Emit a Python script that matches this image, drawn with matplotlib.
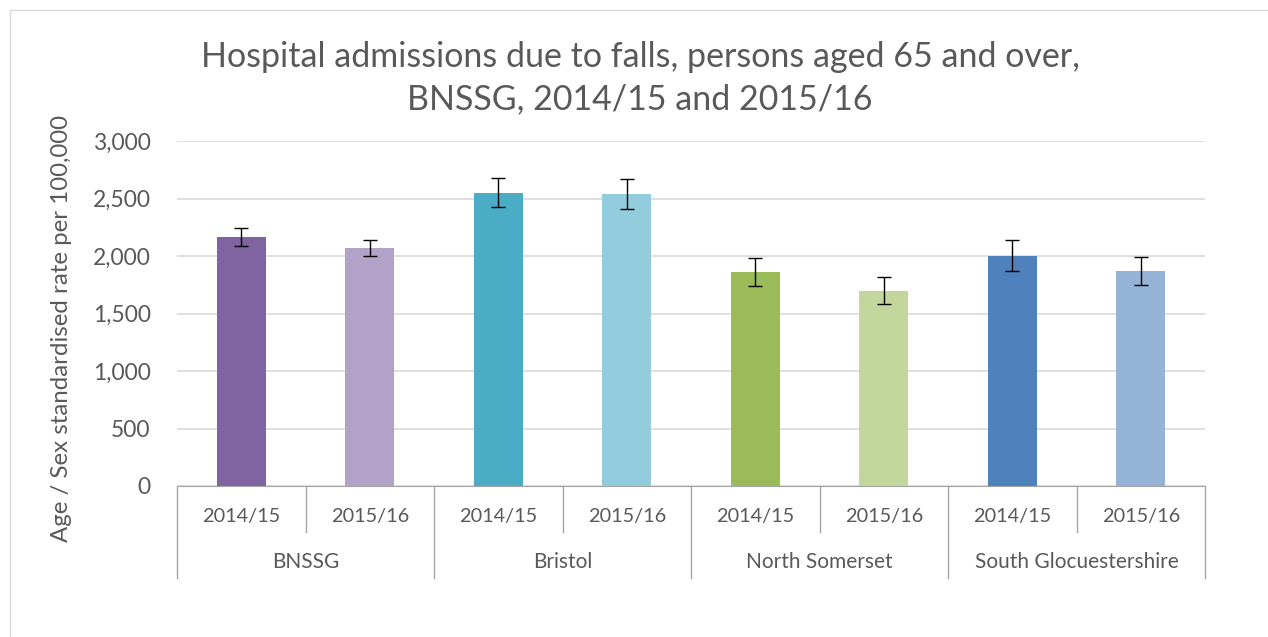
import matplotlib.pyplot as plt
from matplotlib.patches import Rectangle

# data
areas = ['BNSSG', 'Bristol', 'North Somerset', 'South Glocuestershire']
years = ['2014/15', '2015/16']
rates = [2165, 2070, 2548, 2539, 1861, 1696, 2000, 1870]
lower = [2090, 1997, 2426, 2409, 1742, 1585, 1872, 1748]
upper = [2241, 2142, 2678, 2670, 1983, 1815, 2139, 1991]
colors = ['#8064A2', '#B2A2C7', '#4BACC6', '#93CDDD',
          '#9BBB59', '#C3D69B', '#4F81BD', '#95B3D7']

plt.rcParams['font.family'] = ['Lato', 'DejaVu Sans']
txt = '#595959'
grid = '#D9D9D9'

fig = plt.figure(figsize=(12.68, 6.37), dpi=100)
fig.patches.append(Rectangle((10 / 1268, -0.1), 1.2, (637 - 10) / 637 + 0.1,
                             transform=fig.transFigure, fill=False,
                             edgecolor=grid, linewidth=1))
ax = fig.add_axes([177 / 1268, (637 - 486) / 637, 1028 / 1268, 345 / 637])

x = list(range(len(rates)))
yerr = [[r - l for r, l in zip(rates, lower)], [u - r for r, u in zip(rates, upper)]]
ax.bar(x, rates, width=0.38, color=colors, zorder=2)
ax.errorbar(x, rates, yerr=yerr, fmt='none', ecolor='black', elinewidth=1,
            capsize=5, capthick=1, zorder=3)

ax.set_xlim(-0.5, len(rates) - 0.5)
ax.set_ylim(0, 3000)
ax.set_yticks(range(0, 3001, 500))
ax.set_yticklabels([f'{v:,}' for v in range(0, 3001, 500)], fontsize=16.5, color=txt)
ax.yaxis.grid(True, color=grid, linewidth=1.2, zorder=0)
ax.tick_params(axis='y', length=0, pad=19)
ax.set_xticks([])
for s in ['top', 'right', 'left']:
    ax.spines[s].set_visible(False)
ax.spines['bottom'].set_color('#A6A6A6')

# two-level category axis
n = len(rates)
for i in range(n + 1):
    xa = i / n
    bottom = -0.267 if i % 2 == 0 else -0.133
    ax.plot([xa, xa], [0, bottom], transform=ax.transAxes, color='#A6A6A6',
             linewidth=1, clip_on=False)
for i in range(n):
    ax.text((i + 0.5) / n, -0.087, years[i % 2], transform=ax.transAxes,
            ha='center', va='center', fontsize=14.3, color=txt)
for j, a in enumerate(areas):
    ax.text((2 * j + 1) / n, -0.22, a, transform=ax.transAxes,
            ha='center', va='center', fontsize=15, color=txt)

fig.text(62 / 1268, 1 - 328 / 637, 'Age / Sex standardised rate per 100,000',
         rotation=90, ha='center', va='center', fontsize=17.3, color=txt)
fig.text(640 / 1268, 1 - 78 / 637,
         'Hospital admissions due to falls, persons aged 65 and over,\nBNSSG, 2014/15 and 2015/16',
         ha='center', va='center', fontsize=24.5, color=txt, linespacing=1.4)

fig.savefig('out.png', dpi=100, facecolor='white')
